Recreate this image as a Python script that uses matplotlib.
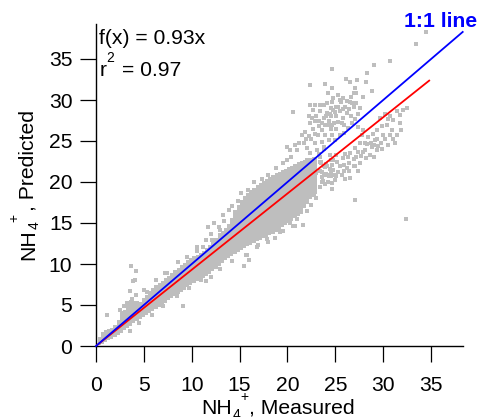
import numpy as np
import matplotlib
matplotlib.use('Agg')
import matplotlib.pyplot as plt

plt.rcParams['font.family'] = ['Liberation Sans', 'DejaVu Sans']

W, H = 480, 417

# dense part of the cloud, outline
dense_upper_x = [0.0, 0.07, 0.77, 1.81, 2.33, 2.51, 3.2, 3.38, 4.6, 5.1, 6.0, 7.04, 8.08, 9.13, 10.17, 10.87,
                 11.9, 12.3, 14.0, 14.5, 15.4, 16.8, 18.5, 20.3, 21.3, 22.5, 23.2]
dense_upper_y = [0.0, 0.53, 1.9, 2.2, 3.2, 4.2, 4.4, 5.6, 5.4, 6.0, 7.2, 8.05, 9.06, 10.08, 10.9, 11.3,
                 12.3, 12.9, 15.0, 16.6, 18.2, 19.6, 20.9, 21.9, 22.5, 23.0, 23.0]
dense_lower_x = [0.0, 0.5, 1.11, 2.16, 3.2, 4.6, 6.0, 7.38, 8.78, 10.17, 11.9, 14.0, 15.7, 17.1, 18.5, 19.9,
                 21.3, 22.5, 23.2]
dense_lower_y = [0.0, 0.1, 0.6, 1.2, 2.1, 3.3, 4.3, 5.4, 6.5, 7.65, 8.8, 10.9, 12.1, 12.9, 13.7, 14.8,
                 16.0, 18.0, 18.6]

# separate points
points_x = [24.6, 29, 30.7, 28.3, 26.1, 27.3, 26.5, 28.2, 23.9, 22.4, 27.1, 24.7, 28.8, 24.2, 26.9,
            25.3, 25.8, 27.2, 27.9, 24.8, 25.5, 26.5, 23.8, 22.9, 23.4, 22.4, 20.6, 24.5, 25.1, 26, 26.7,
            22.7, 23.4, 24.1, 24.8, 25.5, 26.2, 22.2, 23, 23.8, 24.5, 25.1, 25.8, 22.9, 23.6, 24.3, 24.9,
            25.7, 22.4, 21.8, 21.5, 22.7, 23.6, 24.5, 25.1, 23.2, 23.9, 24.6, 22.5, 21.7, 20.8, 19.9, 20.3,
            21, 22, 22.9, 23.6, 24.3, 22.4, 23.1, 23.8,
            27.4, 29.7, 30.4, 31.8, 31.8, 30.7, 32.5, 32.1, 29.3, 30, 30.7, 31.4, 28.4, 29.1, 29.8, 30.5, 31.2,
            27.8, 28.1, 28.8, 29.3, 27.6, 27, 27.9, 28.6, 26.5, 27.2, 25.8, 25.1, 24.5, 26.4, 27.1, 27.6, 25.5,
            24.8, 24.1, 26.4, 26.5, 25.7, 24.5, 23.8, 23, 25, 23.6, 22.4, 22.5, 23.4, 22,
            34.5, 33.4, 27, 32.4,
            10.5, 11.2, 11.5, 12.1, 13, 11.7, 12.3, 13.3, 13.9, 13,
            3.7, 4.2, 4.1, 3.9, 3.55, 5, 1.2, 9.05, 11.5, 7.45,
            15.7, 15.5, 16, 15.8, 21.6, 20.8, 21.4, 20.6, 19.2, 18.7, 18, 16.9,
            21.2, 21.9, 22.2, 22.9, 23.3, 23.9, 24.2, 24.7, 25.3, 25.9, 22.6, 23.3, 24, 24.4, 25, 25.3, 25.8,
            26.4, 26.9, 26.6, 24.1, 24.7, 25.6, 26.2, 26.6, 27.2, 27.6, 25, 25.5, 25.9, 26.3, 26.7, 27, 27.4,
            24, 24.7, 25.2, 25.9, 26, 26.3, 26.9, 27.4, 27.7, 28.1, 28.3, 28.7, 29, 29.4, 29.5, 26.2, 25.9,
            25.3, 25.1, 24.9, 24.6, 26.9, 26, 24.5, 27.4, 28.2, 29, 29.9, 30.2, 31, 30.9, 29.9, 30.5, 31,
            28.9, 27.9, 31.9, 30.2, 31.4,
            15.1, 15.9, 16.5, 17.3, 18, 18.8, 19.5, 20, 20.4, 14.8, 14.2, 13.4, 12.8, 12, 16.8, 17.9, 19.5,
            20.3, 21, 22, 22.5, 23, 10.5, 9.5, 8.6, 7.2, 6.3, 5.3, 4.2, 3.8, 3.2, 2.9, 2.5,
            3.5, 4.5, 5.8, 7, 8.5, 9.7, 11, 12, 13, 14.2,
            23.4, 23.7, 24.1, 24.4, 23.5, 23.9, 24.3, 23.4, 23.8, 24.6, 23.6, 24.2, 23.5, 24, 23.4, 23.9,
            24.4, 23.6, 24.8, 23.3, 23.8]
points_y = [33.8, 34.3, 34.7, 33.3, 32.6, 32.4, 32.2, 32.2, 32, 31.8, 31.5, 31.5, 31.1, 30.8, 30.8,
            30.6, 30.2, 30.8, 30.4, 30.2, 30, 29.8, 29.4, 29.4, 29.4, 29.4, 28.5, 29, 29.2, 29.2, 29.6,
            28.8, 28.6, 28.4, 28.8, 28.6, 28.4, 28, 28, 27.8, 28, 28, 27.8, 27.4, 27.2, 27.4, 27.2,
            27.2, 27.2, 26.1, 25.7, 26.5, 26.3, 26.5, 26.5, 25.7, 25.7, 25.7, 25.3, 24.7, 24.5, 24.3, 23.9,
            23.9, 24.1, 24.7, 24.9, 25.1, 23.5, 23.9, 24.3,
            26.7, 27.8, 27, 28.2, 27.2, 28, 29, 28.8, 26.3, 25.7, 25.7, 25.7, 25.5, 25.1, 24.7, 24.5, 24.7,
            25.7, 24.7, 24.3, 23.9, 24.7, 24.1, 23.7, 23.3, 23.5, 23.1, 22.9, 23.3, 22.7, 22.3, 21.9, 22.3, 21.9,
            21.5, 21.9, 21.3, 20.5, 20.9, 20.7, 20.9, 21.1, 20.2, 20, 20.9, 21.9, 22.5, 22.7,
            38.3, 36.8, 17.8, 15.5,
            12.1, 12.1, 12.9, 12.9, 13.5, 14.5, 15, 16, 16.6, 14.1,
            9.8, 9.2, 8.0, 7.9, 6.7, 6.8, 3.8, 4.9, 7.96, 8.9,
            11.1, 9.8, 10.5, 11.1, 14.8, 14.6, 16.3, 14.6, 13.9, 13.2, 12.7, 12.3,
            24.8, 25.2, 25.6, 25.9, 26.8, 27, 26.9, 27, 27.3, 26.9, 27.8, 27.5, 28, 28.3, 28.5, 29.1, 28.9,
            28.9, 29.1, 28.1, 29.6, 29.7, 29.7, 29.9, 30.4, 29.6, 29, 25.1, 25.7, 26, 26.6, 27.2, 27.7, 28.3,
            22.2, 22.1, 22.5, 22.1, 23.4, 23, 22.8, 23.6, 23.2, 23.9, 24.6, 24.8, 24.5, 25.3, 24.4, 21.7, 21.4,
            21.2, 20.7, 20.9, 19.9, 22, 20.4, 21.2, 21.4, 22.9, 23, 24, 25.2, 25.2, 26.4, 26.8, 27.7, 27.6,
            25.8, 26.4, 26.3, 28.3, 28.6,
            18.6, 19, 20, 20.4, 20.9, 21.7, 22.3, 22.7, 23, 17.7, 17.1, 15.3, 14.5, 13.7, 12.1, 13, 14,
            15, 15.5, 16.5, 17.2, 18, 11.6, 10.8, 10.2, 8.9, 8, 6.6, 6.2, 5.7, 5.2, 4.9, 4.4,
            1.8, 2.8, 3.8, 4.9, 6.1, 7.1, 8, 8.4, 9.4, 10.4,
            19.4, 20.1, 20.9, 21.6, 22.3, 19.8, 20.7, 21.3, 22, 19.1, 21.2, 20, 22.5, 21, 23.1, 21.8,
            23.3, 20.6, 22.7, 23.4, 24]

fit_x = [0, 34.8]
slope = 0.93
one_x = [0, 38.3]

xticks = [0, 5, 10, 15, 20, 25, 30, 35]
yticks = [0, 5, 10, 15, 20, 25, 30, 35]


def put(px, py, s, **kw):
    # place text by pixel position in the figure
    return fig.text(px / W, 1 - py / H, s, va='baseline', ha=kw.pop('ha', 'left'), **kw)


fig = plt.figure(figsize=(W / 100, H / 100), dpi=100)
ax = fig.add_axes([96 / W, 1 - 346 / H, (462.7 - 96) / W, (346 - 24) / H])
ax.set_xlim(0, 38.3)
ax.set_ylim(0, 322 / 8.2)

fx = np.arange(0, 23.2, 0.33)
ax.fill_between(fx, np.interp(fx, dense_lower_x, dense_lower_y), np.interp(fx, dense_upper_x, dense_upper_y),
                color='#bebebe', lw=0, step='mid', zorder=1)
ax.scatter(points_x, points_y, marker='s', s=7, color='#bebebe', linewidths=0, zorder=2, clip_on=False)
ax.plot(fit_x, [slope * v for v in fit_x], color='#ff0000', lw=1.3, zorder=3)
ax.plot(one_x, one_x, color='#0000ff', lw=1.3, zorder=4, clip_on=False)

for s in ['top', 'right']:
    ax.spines[s].set_visible(False)
for s in ['left', 'bottom']:
    ax.spines[s].set_linewidth(1.0)
ax.set_xticks(xticks)
ax.set_yticks(yticks)
ax.tick_params(axis='x', length=11.5, width=0.9, labelsize=15.2, pad=10.3)
ax.tick_params(axis='y', length=11.5, width=0.9, labelsize=15.2, pad=5.5)

put(99, 44, 'f(x) = 0.93x', fontsize=15.2)
put(99.5, 76, 'r', fontsize=15.2)
put(106.5, 62, '2', fontsize=10)
put(121.5, 76, '= 0.97', fontsize=15.2)
put(404, 27, '1:1 line', fontsize=15.2, fontweight='bold', color='#0000ff')

# x label, pieces so the sub and superscript sit above each other
put(201, 414, 'NH', fontsize=15.2)
put(233, 419, '4', fontsize=10)
put(240.5, 401, '+', fontsize=10)
put(249, 414, ', Measured', fontsize=15.2)

# y label
put(34, 260, 'NH', fontsize=15.2, rotation=90, rotation_mode='anchor')
put(39, 229, '4', fontsize=10, rotation=90, rotation_mode='anchor')
put(18, 221.5, '+', fontsize=10, rotation=90, rotation_mode='anchor')
put(34, 211, ', Predicted', fontsize=15.2, rotation=90, rotation_mode='anchor')

fig.savefig('out.png', dpi=100)
